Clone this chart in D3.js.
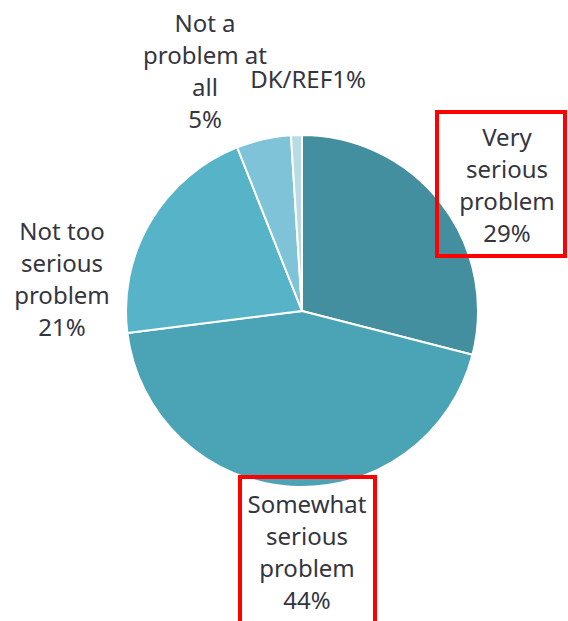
<!DOCTYPE html>
<html>
<head>
<meta charset="utf-8">
<script src="https://cdn.jsdelivr.net/npm/d3@7/dist/d3.min.js"></script>
<style>
  html, body { margin: 0; padding: 0; background: #fff; }
  svg { display: block; }
  text { font-family: "Noto Sans", sans-serif; font-size: 24px; fill: #35353f; }
</style>
</head>
<body>
<script>
// Survey responses, clockwise from 12 o'clock
const categories = ["Very serious problem", "Somewhat serious problem", "Not too serious problem", "Not a problem at all", "DK/REF"];
const shares = [29, 44, 21, 5, 1];
const colors = ["#438e9f", "#4ba4b6", "#56b3c8", "#7ec3d7", "#b7dce6"];
// Label lines for each slice
const labelLines = [
  ["Very", "serious", "problem", "29%"],
  ["Somewhat", "serious", "problem", "44%"],
  ["Not too", "serious", "problem", "21%"],
  ["Not a", "problem at", "all", "5%"],
  ["DK/REF1%"]
];

const W = 568, H = 621;
const cx = 302, cy = 311, R = 176;

const svg = d3.select("body").append("svg").attr("width", W).attr("height", H);

const data = categories.map((c, i) => ({ name: c, value: shares[i], color: colors[i], lines: labelLines[i] }));

const pie = d3.pie().value(d => d.value).sort(null);
const arc = d3.arc().innerRadius(0).outerRadius(R);

const g = svg.append("g").attr("transform", `translate(${cx},${cy})`);
g.selectAll("path")
  .data(pie(data))
  .join("path")
  .attr("d", arc)
  .attr("fill", d => d.data.color)
  .attr("stroke", "#fff")
  .attr("stroke-width", 2)
  .attr("stroke-linejoin", "round");

// Label anchor points (centre x, first baseline)
const labelPos = [
  { x: 507, y: 146 },
  { x: 307, y: 513 },
  { x: 62, y: 240 },
  { x: 205, y: 32 },
  { x: 308, y: 88 }
];
const lineH = 32;

const labels = svg.append("g");
data.forEach((d, i) => {
  const t = labels.append("text")
    .attr("text-anchor", "middle")
    .attr("x", labelPos[i].x)
    .attr("y", labelPos[i].y);
  d.lines.forEach((ln, j) => {
    t.append("tspan")
      .attr("x", labelPos[i].x)
      .attr("y", labelPos[i].y + j * lineH)
      .text(ln);
  });
});

// Highlight boxes around the two emphasised labels
const boxes = [
  { x: 437, y: 112, w: 128, h: 144 },
  { x: 240, y: 477, w: 135, h: 160 }
];
svg.append("g").selectAll("rect")
  .data(boxes)
  .join("rect")
  .attr("x", d => d.x)
  .attr("y", d => d.y)
  .attr("width", d => d.w)
  .attr("height", d => d.h)
  .attr("fill", "none")
  .attr("stroke", "#ff0000")
  .attr("stroke-width", 4);
</script>
</body>
</html>
